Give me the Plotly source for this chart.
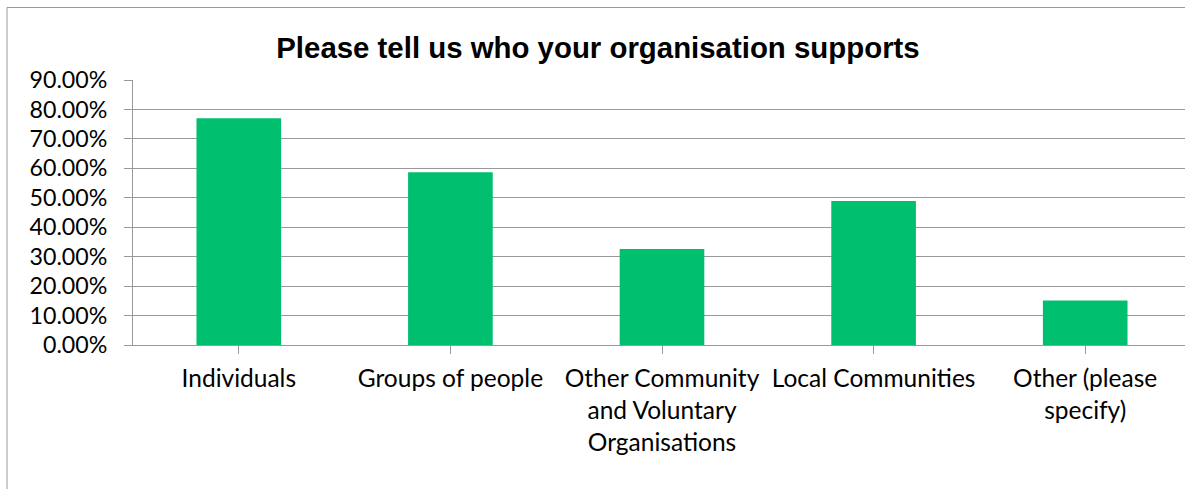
import plotly.graph_objects as go

# Survey responses: share of organisations supporting each group
categories = [
    "Individuals",
    "Groups of people",
    "Other Community<br>and Voluntary<br>Organisations",
    "Local Communities",
    "Other (please<br>specify)",
]
shares = [0.770, 0.587, 0.326, 0.489, 0.151]
y_ticks = [0.0, 0.1, 0.2, 0.3, 0.4, 0.5, 0.6, 0.7, 0.8, 0.9]

W, H = 1185, 489
ML, MR, MT, MB = 133, 0, 80, 144
plot_w = W - ML - MR
plot_h = H - MT - MB
cat_px = 211.6  # pixel width of one category slot

GREEN = "#00BF6F"
GRID = "#999999"
X_FONT = dict(family="Lato, Carlito, sans-serif", size=24.5, color="#000000")
Y_FONT = dict(family="Lato, Carlito, sans-serif", size=23.2, color="#000000")

fig = go.Figure(
    go.Bar(
        x=list(range(len(categories))),
        y=shares,
        marker=dict(color=GREEN, line=dict(width=0)),
        width=0.4,
        hoverinfo="skip",
    )
)

fig.update_layout(
    width=W,
    height=H,
    margin=dict(l=ML, r=MR, t=MT, b=MB, pad=0),
    paper_bgcolor="white",
    plot_bgcolor="white",
    showlegend=False,
    title=dict(
        text="<b>Please tell us who your organisation supports</b>",
        font=dict(family="Liberation Sans, Arial, sans-serif", size=29.4, color="#000000"),
        x=(598 - ML) / plot_w,
        xref="paper",
        xanchor="center",
        y=1 - 58 / H,
        yref="container",
        yanchor="bottom",
    ),
    xaxis=dict(
        range=[-0.5, -0.5 + plot_w / cat_px],
        tickmode="array",
        tickvals=list(range(len(categories))),
        ticktext=categories,
        tickson="boundaries",
        ticks="outside",
        ticklen=8,
        tickwidth=1,
        tickcolor=GRID,
        showline=True,
        linecolor=GRID,
        linewidth=1,
        showgrid=False,
        zeroline=False,
        tickfont=X_FONT,
        tickangle=0,
        ticklabelstandoff=4,
        fixedrange=True,
    ),
    yaxis=dict(
        range=[0, 0.9],
        tickmode="array",
        tickvals=y_ticks,
        tickformat=".2%",
        ticks="outside",
        ticklen=8,
        tickwidth=1,
        tickcolor=GRID,
        showline=True,
        linecolor=GRID,
        linewidth=1,
        showgrid=True,
        gridcolor=GRID,
        gridwidth=1,
        zeroline=False,
        tickfont=Y_FONT,
        ticklabelstandoff=12,
        fixedrange=True,
    ),
    shapes=[
        # outer chart frame, running off the right and bottom edges
        dict(
            type="rect",
            xref="paper",
            yref="paper",
            x0=(7 - ML) / plot_w,
            x1=(1195 - ML) / plot_w,
            y0=-(H + 20 - MT - plot_h) / plot_h,
            y1=(MT + plot_h - 7.5) / plot_h,
            line=dict(color="#999999", width=1),
            fillcolor="rgba(0,0,0,0)",
            layer="below",
        )
    ],
)

fig.write_html("out.html", config=dict(displayModeBar=False))
